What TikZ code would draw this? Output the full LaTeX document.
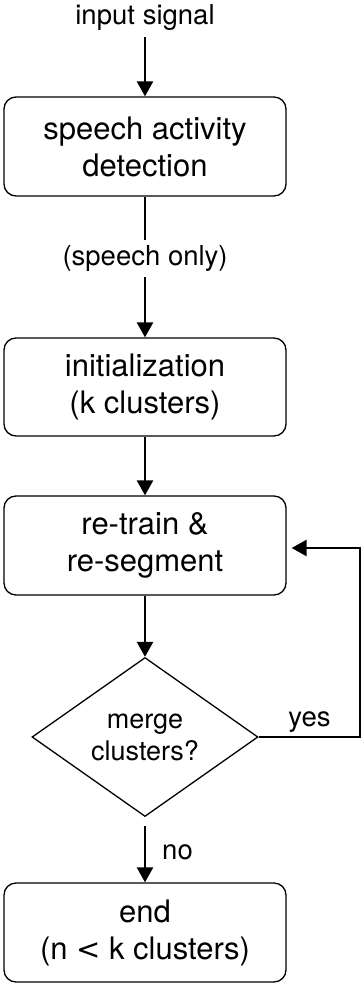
\documentclass[tikz,border=0pt]{standalone}
\usepackage{fontspec}
\setmainfont{TeX Gyre Heros}
\newfontfamily\lsansfam{DejaVu Sans}
\usetikzlibrary{arrows.meta,shapes.geometric}
\tikzset{
  box/.style={draw, line width=1.3pt, rounded corners=12pt, minimum width=282pt, inner sep=0pt,
    align=center, font=\fontsize{31pt}{37pt}\selectfont},
  lbl/.style={inner sep=0pt, font=\fontsize{27.5pt}{33pt}\selectfont},
  conn/.style={line width=2.6pt, -{Triangle[width=16pt,length=15pt]}},
  plain/.style={line width=2.6pt}
}
\begin{document}
\begin{tikzpicture}[x=1pt,y=-1pt]
\useasboundingbox (0,0) rectangle (361,984);
\node[lbl] (in) at (145,17) {input signal};
\coordinate (inb) at (145,37);
\node[box, minimum height=99pt] (b1) at (145,146.5) {speech activity\\detection};
\node[lbl, minimum height=37pt] (so) at (145,258.5) {(speech only)};
\node[box, minimum height=98pt] (b2) at (145,387) {initialization\\(k clusters)};
\node[box, minimum height=99pt] (b3) at (145,545.5) {re-train \&\\re-segment};
\node[draw, line width=1.3pt, diamond, minimum width=226pt, minimum height=159pt, inner sep=0pt,
  align=center, font=\fontsize{27pt}{32pt}\selectfont] (d) at (145,737) {merge\\clusters?};
\node[box, minimum height=99pt] (b4) at (145,932.5) {end\\(n {\lsansfam\fontsize{29pt}{37pt}\selectfont <} k clusters)};
\coordinate (fr) at (360,737);
\node[lbl] (yes) at (309.5,722) {yes};
\node[lbl] (no) at (177.5,852) {no};

\draw[conn] (inb) -- (b1.north);
\draw[plain] (b1.south) -- (so.north);
\draw[conn] (so.south) -- (b2.north);
\draw[conn] (b2.south) -- (b3.north);
\draw[conn] (b3.south) -- (d.north);
\draw[conn, shorten <=9pt] (d.south) -- (b4.north);
\draw[conn, rounded corners=0pt] (d.east) -- (fr) |- ([xshift=5pt,yshift=-2.5pt]b3.east);
\end{tikzpicture}
\end{document}
